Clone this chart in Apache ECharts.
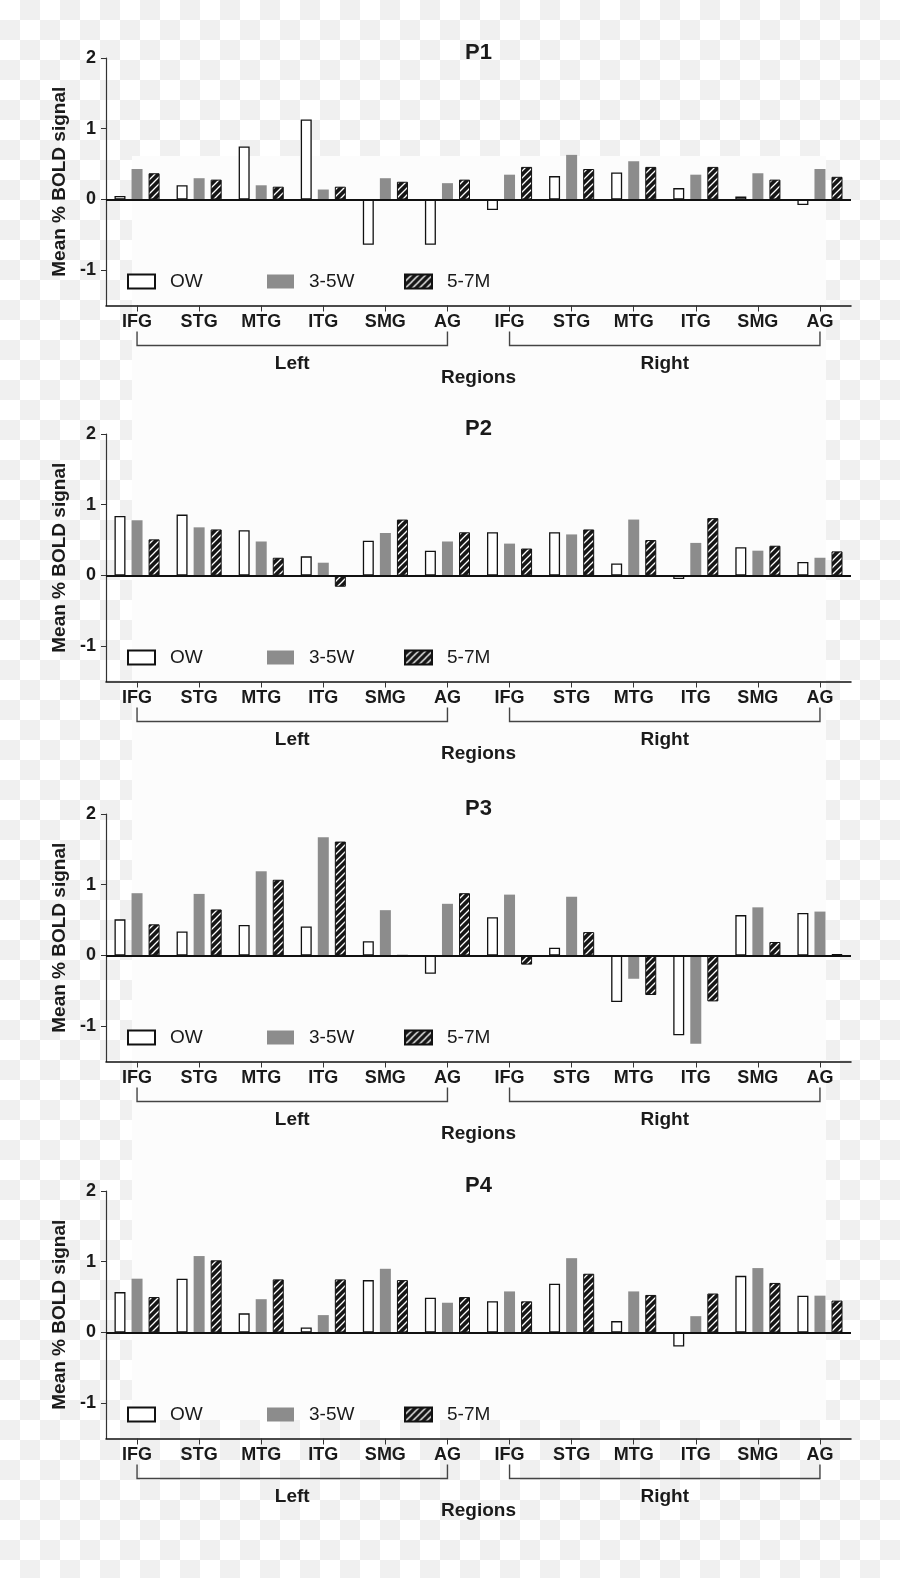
<!DOCTYPE html>
<html>
<head>
<meta charset="utf-8">
<script src="https://cdn.jsdelivr.net/npm/echarts@6/dist/echarts.min.js"></script>
<style>
  html, body { margin: 0; padding: 0; }
  body {
    width: 900px; height: 1578px; position: relative; overflow: hidden;
    background-color: #fff;
    background-image: conic-gradient(#f0f0f0 0 25%, #ffffff 0 50%, #f0f0f0 0 75%, #ffffff 0 100%);
    background-size: 40px 40px;
  }
  #inner { position: absolute; left: 132px; top: 156px; width: 694px; height: 1264px; background: #fcfcfc; }
  #chart { position: absolute; left: 0; top: 0; width: 900px; height: 1578px; }
</style>
</head>
<body>
<div id="inner"></div>
<div id="chart"></div>
<script>
// ---------- data ----------
const categories = ['IFG','STG','MTG','ITG','SMG','AG','IFG','STG','MTG','ITG','SMG','AG'];
const panelTitles = ['P1','P2','P3','P4'];
const seriesNames = ['OW','3-5W','5-7M'];
const yTicks = [-1, 0, 1, 2];
const groupLabels = ['Left','Right'];
const xAxisTitle = 'Regions';
const yAxisTitle = 'Mean % BOLD signal';

const p1_OW  = [0.05, 0.20, 0.75, 1.13, -0.64, -0.64, -0.15, 0.33, 0.38, 0.16, 0.04, -0.08];
const p1_35W = [0.43, 0.30, 0.20, 0.14, 0.30, 0.23, 0.35, 0.63, 0.54, 0.35, 0.37, 0.43];
const p1_57M = [0.37, 0.28, 0.18, 0.18, 0.25, 0.28, 0.46, 0.43, 0.46, 0.46, 0.28, 0.32];

const p2_OW  = [0.84, 0.86, 0.64, 0.27, 0.49, 0.35, 0.61, 0.61, 0.17, -0.05, 0.40, 0.19];
const p2_35W = [0.78, 0.68, 0.48, 0.18, 0.60, 0.48, 0.45, 0.58, 0.79, 0.46, 0.35, 0.25];
const p2_57M = [0.51, 0.65, 0.25, -0.16, 0.79, 0.61, 0.38, 0.65, 0.50, 0.81, 0.42, 0.34];

const p3_OW  = [0.51, 0.34, 0.43, 0.41, 0.20, -0.26, 0.54, 0.11, -0.66, -1.13, 0.57, 0.60];
const p3_35W = [0.88, 0.87, 1.19, 1.67, 0.64, 0.73, 0.86, 0.83, -0.33, -1.25, 0.68, 0.62];
const p3_57M = [0.44, 0.65, 1.07, 1.61, 0.00, 0.88, -0.13, 0.33, -0.56, -0.65, 0.19, 0.02];

const p4_OW  = [0.57, 0.76, 0.27, 0.07, 0.74, 0.49, 0.44, 0.69, 0.16, -0.20, 0.80, 0.52];
const p4_35W = [0.76, 1.08, 0.47, 0.245, 0.90, 0.42, 0.58, 1.05, 0.58, 0.23, 0.91, 0.52];
const p4_57M = [0.50, 1.02, 0.75, 0.75, 0.74, 0.50, 0.44, 0.83, 0.53, 0.55, 0.70, 0.45];

const panelData = [
  [p1_OW, p1_35W, p1_57M],
  [p2_OW, p2_35W, p2_57M],
  [p3_OW, p3_35W, p3_57M],
  [p4_OW, p4_35W, p4_57M]
];

// ---------- layout / style ----------
const FONT = '"Liberation Sans", Arial, Helvetica, sans-serif';
const panelTop = [58, 434, 814, 1191];
const gridLeft = 106, gridWidth = 745, gridHeight = 247.5;
const legendLefts = [127, 267, 404];

// hatch pattern
const pat = document.createElement('canvas');
pat.width = 7; pat.height = 7;
(function () {
  const c = pat.getContext('2d');
  c.fillStyle = '#161616'; c.fillRect(0, 0, 7, 7);
  c.strokeStyle = '#ffffff'; c.lineWidth = 1.3;
  c.beginPath();
  c.moveTo(-1, 8); c.lineTo(8, -1);
  c.moveTo(-1, 1); c.lineTo(1, -1);
  c.moveTo(6, 8); c.lineTo(8, 6);
  c.stroke();
})();

const seriesStyles = [
  { color: '#ffffff', borderColor: '#111111', borderWidth: 1.3 },
  { color: '#8c8c8c' },
  { color: { image: pat, repeat: 'repeat' }, borderColor: '#111111', borderWidth: 1 }
];

const chart = echarts.init(document.getElementById('chart'), null, { renderer: 'canvas' });

const grids = [], xAxes = [], yAxes = [], series = [], titles = [], legends = [];
panelTop.forEach((top, i) => {
  grids.push({ left: gridLeft, top: top, width: gridWidth, height: gridHeight, containLabel: false });
  xAxes.push({
    type: 'category', gridIndex: i, data: categories, boundaryGap: true, position: 'bottom',
    axisLine: { show: true, onZero: false, lineStyle: { color: '#111', width: 1.5 } },
    axisTick: { show: true, alignWithLabel: true, length: 6, lineStyle: { color: '#333', width: 1 } },
    axisLabel: { interval: 0, margin: 8, fontSize: 18, fontWeight: 'bold', color: '#1a1a1a', fontFamily: FONT },
    splitLine: { show: false }
  });
  yAxes.push({
    type: 'value', gridIndex: i, min: -1.5, max: 2,
    name: yAxisTitle, nameLocation: 'middle', nameGap: 36,
    nameTextStyle: { fontSize: 19, fontWeight: 'bold', color: '#1a1a1a', fontFamily: FONT },
    axisLine: { show: true, lineStyle: { color: '#333', width: 1.2 } },
    axisTick: { show: true, length: 5, customValues: yTicks, lineStyle: { color: '#333', width: 1 } },
    axisLabel: { customValues: yTicks, margin: 10, fontSize: 18, fontWeight: 'bold', color: '#1a1a1a', fontFamily: FONT },
    splitLine: { show: false }
  });
  seriesNames.forEach((name, k) => {
    const s = {
      type: 'bar', name: name, xAxisIndex: i, yAxisIndex: i,
      data: panelData[i][k], barWidth: 11, barGap: '55%',
      itemStyle: seriesStyles[k], animation: false, emphasis: { disabled: true }
    };
    if (k === 0) {
      s.markLine = {
        silent: true, symbol: ['none', 'none'], animation: false,
        label: { show: false },
        lineStyle: { color: '#111', width: 2, type: 'solid' },
        data: [{ yAxis: 0 }]
      };
    }
    series.push(s);
    legends.push({
      data: [name], left: legendLefts[k], top: top + 214, padding: 0,
      orient: 'horizontal', selectedMode: false, icon: 'rect',
      itemWidth: 27, itemHeight: 14,
      textStyle: { fontSize: 19, color: '#1a1a1a', fontFamily: FONT, padding: [0, 0, 0, 10] }
    });
  });
  titles.push({
    text: panelTitles[i], left: gridLeft + gridWidth / 2, textAlign: 'center', top: top - 16,
    padding: 0,
    textStyle: { fontSize: 22, fontWeight: 'bold', color: '#1a1a1a', fontFamily: FONT }
  });
});

chart.setOption({
  animation: false,
  backgroundColor: 'transparent',
  title: titles, legend: legends,
  grid: grids, xAxis: xAxes, yAxis: yAxes, series: series
});

// brackets, group labels, axis title computed from the axes
const graphics = [];
panelTop.forEach((top, i) => {
  const xb = idx => chart.convertToPixel({ xAxisIndex: i }, idx);
  const yb = chart.convertToPixel({ yAxisIndex: i }, -1.5);
  const groups = [[0, 5], [6, 11]];
  groups.forEach((g, gi) => {
    const x0 = xb(g[0]), x1 = xb(g[1]);
    graphics.push({
      type: 'polyline', silent: true,
      shape: { points: [[x0, yb + 26], [x0, yb + 40], [x1, yb + 40], [x1, yb + 26]] },
      style: { stroke: '#444', lineWidth: 1.4, fill: null }
    });
    graphics.push({
      type: 'text', silent: true, x: (x0 + x1) / 2, y: yb + 58,
      style: { text: groupLabels[gi], fill: '#1a1a1a', font: 'bold 19px ' + FONT, align: 'center', verticalAlign: 'middle' }
    });
  });
  graphics.push({
    type: 'text', silent: true, x: gridLeft + gridWidth / 2, y: yb + 72,
    style: { text: xAxisTitle, fill: '#1a1a1a', font: 'bold 19px ' + FONT, align: 'center', verticalAlign: 'middle' }
  });
});
chart.setOption({ graphic: graphics });
</script>
</body>
</html>
